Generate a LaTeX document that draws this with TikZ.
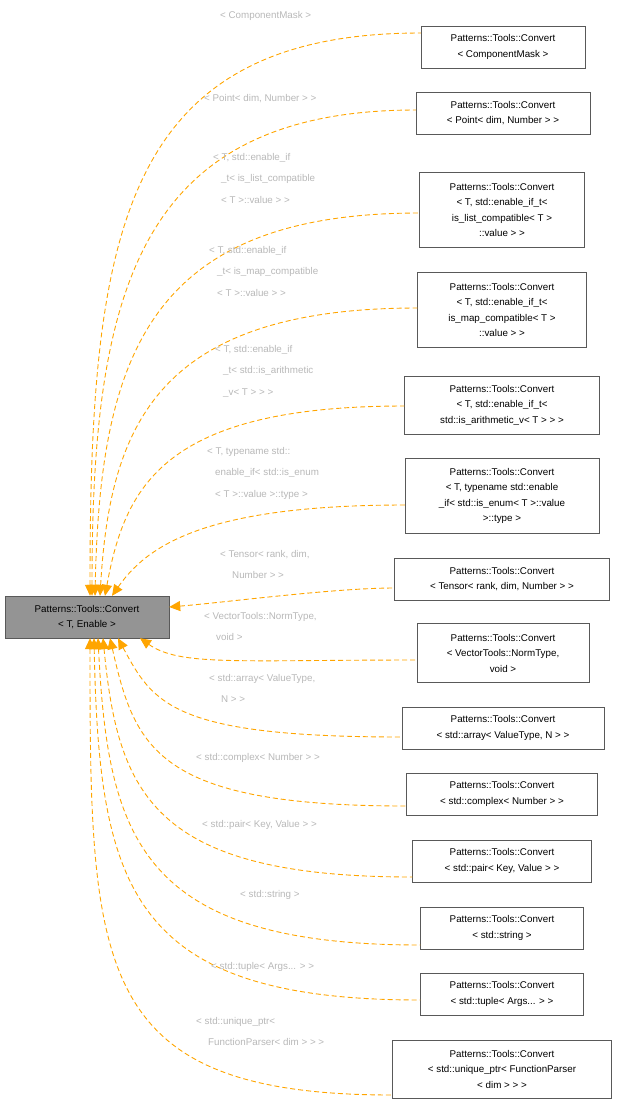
\documentclass[tikz,border=0pt]{standalone}
\usepackage{fontspec}
\setmainfont{Liberation Sans}
\usetikzlibrary{arrows.meta}
\definecolor{edgeorange}{HTML}{FFA500}

\begin{document}
\begin{tikzpicture}
            [x=1pt,y=-1pt,
             cls/.style={draw=black!65,fill=white,align=center,font=\fontsize{9.8}{15.5}\selectfont,inner sep=3pt},
             inh/.style={draw=edgeorange,dashed,line width=0.9pt,dash pattern=on 5pt off 3pt,{Triangle[length=11pt,width=10pt,fill=edgeorange]}-},
             lbl/.style={text=black!28,align=left,anchor=north west,inner sep=0pt,font=\fontsize{9.8}{21.5}\selectfont}]
            \useasboundingbox (0,0) rectangle (618,1104);
            \node[cls,fill=black!42,minimum width=164pt,minimum height=42pt] (base) at (87,617) {Patterns::Tools::Convert\\< T, Enable >};
            \node[cls,minimum width=164pt,minimum height=42pt] (c1) at (503,47) {Patterns::Tools::Convert\\< ComponentMask >};
            \node[cls,minimum width=174pt,minimum height=42pt] (c2) at (503,113) {Patterns::Tools::Convert\\< Point< dim, Number > >};
            \node[cls,minimum width=165pt,minimum height=75pt] (c3) at (502,210) {Patterns::Tools::Convert\\< T, std::enable\_if\_t<\\ is\_list\_compatible< T >\\::value > >};
            \node[cls,minimum width=169pt,minimum height=75pt] (c4) at (502,310) {Patterns::Tools::Convert\\< T, std::enable\_if\_t<\\ is\_map\_compatible< T >\\::value > >};
            \node[cls,minimum width=195pt,minimum height=58pt] (c5) at (502,405) {Patterns::Tools::Convert\\< T, std::enable\_if\_t<\\ std::is\_arithmetic\_v< T > > >};
            \node[cls,minimum width=194pt,minimum height=75pt] (c6) at (502,496) {Patterns::Tools::Convert\\< T, typename std::enable\\\_if< std::is\_enum< T >::value\\ >::type >};
            \node[cls,minimum width=215pt,minimum height=42pt] (c7) at (502,579) {Patterns::Tools::Convert\\< Tensor< rank, dim, Number > >};
            \node[cls,minimum width=172pt,minimum height=59pt] (c8) at (503,653) {Patterns::Tools::Convert\\< VectorTools::NormType,\\ void >};
            \node[cls,minimum width=202pt,minimum height=42pt] (c9) at (503,728) {Patterns::Tools::Convert\\< std::array< ValueType, N > >};
            \node[cls,minimum width=191pt,minimum height=42pt] (c10) at (502,794) {Patterns::Tools::Convert\\< std::complex< Number > >};
            \node[cls,minimum width=179pt,minimum height=42pt] (c11) at (502,861) {Patterns::Tools::Convert\\< std::pair< Key, Value > >};
            \node[cls,minimum width=163pt,minimum height=42pt] (c12) at (502,928) {Patterns::Tools::Convert\\< std::string >};
            \node[cls,minimum width=163pt,minimum height=42pt] (c13) at (502,994) {Patterns::Tools::Convert\\< std::tuple< Args... > >};
            \node[cls,minimum width=219pt,minimum height=58pt] (c14) at (502,1069) {Patterns::Tools::Convert\\< std::unique\_ptr< FunctionParser\\< dim > > >};
            % inheritance edges
            \draw[inh] ([xshift=3pt]base.north) .. controls +(0,-360) and +(-300,0) .. ([yshift=14pt]c1.west);
            \draw[inh] ([xshift=5pt]base.north) .. controls +(0,-300) and +(-280,0) .. ([yshift=3pt]c2.west);
            \draw[inh] ([xshift=8pt]base.north) .. controls +(5,-240) and +(-270,0) .. ([yshift=-3pt]c3.west);
            \draw[inh] ([xshift=13pt]base.north) .. controls +(10,-170) and +(-260,0) .. ([yshift=2pt]c4.west);
            \draw[inh] ([xshift=18pt]base.north) .. controls +(20,-110) and +(-240,0) .. ([yshift=-1pt]c5.west);
            \draw[inh] ([xshift=25pt]base.north) .. controls +(35,-50) and +(-200,0) .. ([yshift=-9pt]c6.west);
            \draw[inh] ([yshift=10pt]base.east) .. controls +(60,-5) and +(-60,0) .. ([yshift=-9pt]c7.west);
            \draw[inh] ([xshift=53pt]base.south) .. controls +(40,28) and +(-180,0) .. ([yshift=-7pt]c8.west);
            \draw[inh] ([xshift=31pt]base.south) .. controls +(35,65) and +(-230,0) .. ([yshift=-9pt]c9.west);
            \draw[inh] ([xshift=23pt]base.south) .. controls +(25,110) and +(-250,0) .. ([yshift=-12pt]c10.west);
            \draw[inh] ([xshift=16pt]base.south) .. controls +(15,155) and +(-260,0) .. ([yshift=-16pt]c11.west);
            \draw[inh] ([xshift=11pt]base.south) .. controls +(10,200) and +(-280,0) .. ([yshift=-17pt]c12.west);
            \draw[inh] ([xshift=7pt]base.south) .. controls +(5,250) and +(-290,0) .. ([yshift=-6pt]c13.west);
            \draw[inh] ([xshift=3pt]base.south) .. controls +(0,330) and +(-300,0) .. ([yshift=-26pt]c14.west);
            % edge labels
            \node[lbl] (l1) at (220,11) {< ComponentMask >};
            \node[lbl] (l2) at (204,94) {< Point< dim, Number > >};
            \node[lbl] (l3) at (213,153) {< T, std::enable\_if\\\hspace*{8pt}\_t< is\_list\_compatible\\\hspace*{8pt}< T >::value > >};
            \node[lbl] (l4) at (209,246) {< T, std::enable\_if\\\hspace*{8pt}\_t< is\_map\_compatible\\\hspace*{8pt}< T >::value > >};
            \node[lbl] (l5) at (215,345) {< T, std::enable\_if\\\hspace*{8pt}\_t< std::is\_arithmetic\\\hspace*{8pt}\_v< T > > >};
            \node[lbl] (l6) at (207,447) {< T, typename std::\\\hspace*{8pt}enable\_if< std::is\_enum\\\hspace*{8pt}< T >::value >::type >};
            \node[lbl] (l7) at (220,550) {< Tensor< rank, dim,\\\hspace*{12pt}Number > >};
            \node[lbl] (l8) at (204,612) {< VectorTools::NormType,\\\hspace*{12pt}void >};
            \node[lbl] (l9) at (209,674) {< std::array< ValueType,\\\hspace*{12pt}N > >};
            \node[lbl] (l10) at (196,753) {< std::complex< Number > >};
            \node[lbl] (l11) at (202,820) {< std::pair< Key, Value > >};
            \node[lbl] (l12) at (240,890) {< std::string >};
            \node[lbl] (l13) at (211,962) {< std::tuple< Args... > >};
            \node[lbl] (l14) at (196,1017) {< std::unique\_ptr<\\\hspace*{12pt}FunctionParser< dim > > >};
        \end{tikzpicture}
\end{document}
